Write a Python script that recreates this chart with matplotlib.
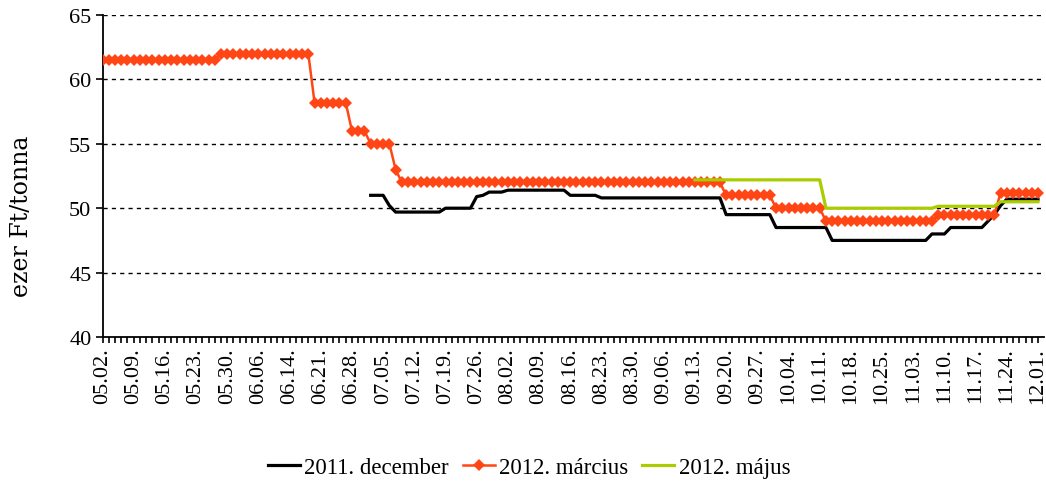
import matplotlib
matplotlib.use("Agg")
import matplotlib.pyplot as plt
import numpy as np

# Category tick labels (every 5th business day)
tick_labels = ["05.02.", "05.09.", "05.16.", "05.23.", "05.30.", "06.06.", "06.14.",
               "06.21.", "06.28.", "07.05.", "07.12.", "07.19.", "07.26.", "08.02.",
               "08.09.", "08.16.", "08.23.", "08.30.", "09.06.", "09.13.", "09.20.",
               "09.27.", "10.04.", "10.11.", "10.18.", "10.25.", "11.03.", "11.10.",
               "11.17.", "11.24.", "12.01."]
label_step = 5

N = np.nan
# 2011. december (black)
dec2011 = ([N] * 43 + [51.0] * 3 + [50.2] + [49.7] * 8 + [50.0] * 5 + [50.9] + [51.0]
           + [51.25] * 3 + [51.4] * 10 + [51.0] * 5 + [50.8] * 20 + [49.5] * 8
           + [48.5] * 9 + [47.5] * 16 + [48.0] * 3 + [48.5] * 6 + [49.0] + [49.5]
           + [50.2] + [50.7] * 6)
# 2012. március (orange, diamonds)
mar2012 = ([61.5] * 19 + [62.0] * 15 + [58.2] * 6 + [56.0] * 3 + [55.0] * 4 + [53.0]
           + [52.0] * 52 + [51.0] * 8 + [50.0] * 8 + [49.0] * 18 + [49.5] * 10
           + [51.2] * 7)
# 2012. május (green)
may2012 = ([N] * 95 + [52.2] * 21 + [50.0] * 18 + [50.15] * 10 + [50.5] * 7)

series_names = ["2011. december", "2012. március", "2012. május"]

plt.rcParams['font.family'] = ['Liberation Serif', 'DejaVu Serif']

W, H = 1046, 485
fig = plt.figure(figsize=(W / 100, H / 100), dpi=100)
x0, x1 = 102.5, 1044
ax = fig.add_axes([x0 / W, 1 - 338 / H, (x1 - x0) / W, (338 - 16) / H])

n = len(mar2012)
x = np.arange(n)

ax.plot(x, dec2011, color='black', lw=2.3, label=series_names[0], zorder=3)
ax.plot(x, mar2012, color='#FF4614', lw=1.8, marker='D', markersize=6.6,
        markeredgewidth=0, label=series_names[1], zorder=4)
ax.plot(x, may2012, color='#AACC00', lw=2.3, label=series_names[2], zorder=5)

ax.set_ylim(40, 65)
ax.set_yticks([40, 45, 50, 55, 60, 65])
for v in [45, 50, 55, 60, 65]:
    ax.axhline(v, color='black', lw=1.0, ls=(0, (3, 3)), zorder=1)

# map category 150 to ~1038 px
ax.set_xlim(0, 150 * (x1 - x0) / (1038 - x0))
major_pos = np.arange(0, n, label_step)
ax.set_xticks(major_pos)
ax.set_xticklabels(tick_labels, rotation=90, fontsize=16)
ax.set_xticks(x, minor=True)
ax.tick_params(axis='x', which='both', direction='out', length=4.5, width=1.2, pad=3)
ax.tick_params(axis='y', direction='out', length=5, width=1.2, labelsize=16, pad=3)

for s in ['top', 'right']:
    ax.spines[s].set_visible(False)
for s in ['left', 'bottom']:
    ax.spines[s].set_linewidth(1.3)

fig.text(22 / W, 1 - 216 / H, "ezer Ft/tonna", rotation=90, ha='center', va='center',
         fontsize=17, family=['DejaVu Serif'])

fig.legend(loc='center', bbox_to_anchor=(529 / W, 1 - 468 / H), ncol=3, frameon=False,
           fontsize=16.5, handlelength=1.4, columnspacing=0.6, handletextpad=0.2)

fig.savefig("out.png", dpi=100)
